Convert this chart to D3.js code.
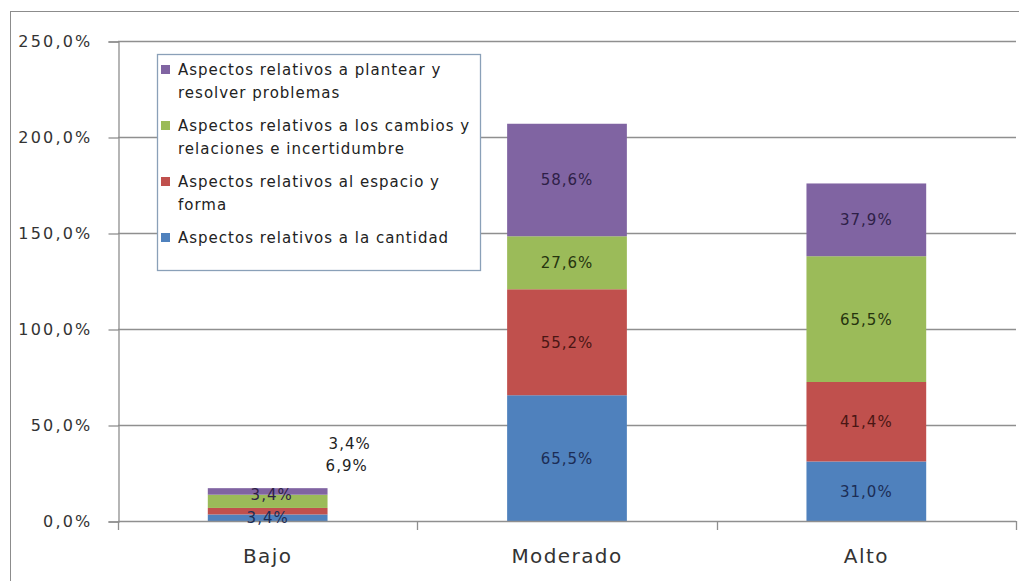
<!DOCTYPE html>
<html>
<head>
<meta charset="utf-8">
<script src="https://cdn.jsdelivr.net/npm/d3@7/dist/d3.min.js"></script>
<style>
  html, body { margin: 0; padding: 0; background: #fff; }
  svg { display: block; }
  text { font-family: "DejaVu Sans", sans-serif; }
</style>
</head>
<body>
<svg id="chart" width="1019" height="581"></svg>
<script>
// ---- data ----
const categories = ["Bajo", "Moderado", "Alto"];
const cantidad = [3.4, 65.5, 31.0];
const espacio = [3.4, 55.2, 41.4];
const cambios = [6.9, 27.6, 65.5];
const plantear = [3.4, 58.6, 37.9];
const seriesKeys = ["cantidad", "espacio", "cambios", "plantear"];
const seriesLabels = [
  ["Aspectos relativos a la cantidad"],
  ["Aspectos relativos al espacio y", "forma"],
  ["Aspectos relativos a los cambios y", "relaciones e incertidumbre"],
  ["Aspectos relativos a plantear y", "resolver problemas"]
];
const seriesColors = ["#4F81BD", "#C0504D", "#9BBB59", "#8064A2"];
const labelColors = ["#1c2d55", "#4a1614", "#26340f", "#2e1f47"];
const yTicks = [0, 50, 100, 150, 200, 250];
const yTickLabels = ["0,0%", "50,0%", "100,0%", "150,0%", "200,0%", "250,0%"];

// label offsets (layout only) for the small "Bajo" bar: [category, seriesIndex, dx, dy]
const labelShifts = [["Bajo", 1, 82, -68], ["Bajo", 2, 79, -36], ["Bajo", 3, 4, 3]];

const table = categories.map((c, i) => ({
  cat: c, cantidad: cantidad[i], espacio: espacio[i], cambios: cambios[i], plantear: plantear[i]
}));
const stacked = d3.stack().keys(seriesKeys)(table);

const svg = d3.select("#chart");
const plotL = 118, plotR = 1016, plotT = 41, plotB = 521;

const x = d3.scaleBand().domain(categories).range([plotL, plotR]).paddingInner(0.6).paddingOuter(0.3);
const y = d3.scaleLinear().domain([0, 250]).range([plotB, plotT]);

// outer chart border
svg.append("rect").attr("x", 10.5).attr("y", 11.5).attr("width", 1020).attr("height", 600)
  .attr("fill", "none").attr("stroke", "#8c8c8c").attr("stroke-width", 1);

// gridlines
svg.append("g").selectAll("line").data(yTicks.filter(t => t > 0)).join("line")
  .attr("x1", plotL).attr("x2", plotR)
  .attr("y1", d => Math.round(y(d)) + 0.5).attr("y2", d => Math.round(y(d)) + 0.5)
  .attr("stroke", "#8f8f8f").attr("stroke-width", 1.3);

// y axis
const yAxis = d3.axisLeft(y).tickValues(yTicks).tickSize(10).tickPadding(16)
  .tickFormat((d, i) => yTickLabels[i]);
const gy = svg.append("g").attr("transform", `translate(${plotL + 0.5},0.5)`).call(yAxis);
gy.select(".domain").attr("stroke", "#8f8f8f").attr("stroke-width", 1.3);
gy.selectAll(".tick line").attr("stroke", "#8f8f8f").attr("stroke-width", 1.3);
gy.selectAll(".tick text").attr("font-size", 16).attr("fill", "#333")
  .attr("letter-spacing", 2.2).attr("font-family", "DejaVu Sans, sans-serif");

// bars
const groups = svg.append("g").selectAll("g").data(stacked).join("g")
  .attr("fill", (d, i) => seriesColors[i]);
groups.selectAll("rect").data(d => d).join("rect")
  .attr("x", d => x(d.data.cat))
  .attr("width", x.bandwidth())
  .attr("y", d => y(d[1]))
  .attr("height", d => y(d[0]) - y(d[1]));

// x axis
const xAxisLine = svg.append("g");
xAxisLine.append("line").attr("x1", plotL).attr("x2", plotR)
  .attr("y1", plotB + 0.5).attr("y2", plotB + 0.5)
  .attr("stroke", "#8f8f8f").attr("stroke-width", 1.3);
const boundaries = d3.range(categories.length + 1).map(i => plotL + i * (plotR - plotL) / categories.length);
xAxisLine.selectAll("line.tk").data(boundaries).join("line").attr("class", "tk")
  .attr("x1", d => Math.round(d) + 0.5).attr("x2", d => Math.round(d) + 0.5)
  .attr("y1", plotB).attr("y2", plotB + 9)
  .attr("stroke", "#8f8f8f").attr("stroke-width", 1.3);
svg.append("g").selectAll("text").data(categories).join("text")
  .attr("x", d => x(d) + x.bandwidth() / 2)
  .attr("y", 563)
  .attr("text-anchor", "middle")
  .attr("font-size", 20).attr("letter-spacing", 1.4).attr("fill", "#333")
  .text(d => d);

// data labels
const fmt = v => v.toFixed(1).replace(".", ",") + "%";
stacked.forEach((s, si) => {
  svg.append("g").selectAll("text").data(s).join("text")
    .attr("x", d => {
      const sh = labelShifts.find(l => l[0] === d.data.cat && l[1] === si);
      return x(d.data.cat) + x.bandwidth() / 2 + (sh ? sh[2] : 0);
    })
    .attr("y", d => {
      const sh = labelShifts.find(l => l[0] === d.data.cat && l[1] === si);
      return (y(d[0]) + y(d[1])) / 2 + (sh ? sh[3] : 0);
    })
    .attr("dy", "0.36em")
    .attr("text-anchor", "middle")
    .attr("font-family", "Liberation Sans, Arial, sans-serif")
    .attr("font-size", 15).attr("letter-spacing", 1.0)
    .attr("fill", d => {
      const sh = labelShifts.find(l => l[0] === d.data.cat && l[1] === si && (l[1] === 1 || l[1] === 2));
      return sh ? "#222" : labelColors[si];
    })
    .text(d => fmt(d[1] - d[0]));
});

// legend
const lg = svg.append("g");
lg.append("rect").attr("x", 157.5).attr("y", 54.5).attr("width", 323).attr("height", 216)
  .attr("fill", "#fff").attr("stroke", "#8aa0b8").attr("stroke-width", 1.3);
const order = [3, 2, 1, 0];
let cy = 70;
order.forEach(si => {
  lg.append("rect").attr("x", 161).attr("y", cy - 5).attr("width", 9).attr("height", 9)
    .attr("fill", seriesColors[si]);
  seriesLabels[si].forEach((line, li) => {
    lg.append("text").attr("x", 178).attr("y", cy + li * 23).attr("dy", "0.36em")
      .attr("font-size", 15).attr("letter-spacing", 1.0).attr("fill", "#222")
      .text(line);
  });
  cy += seriesLabels[si].length * 23 + 10;
});
</script>
</body>
</html>
